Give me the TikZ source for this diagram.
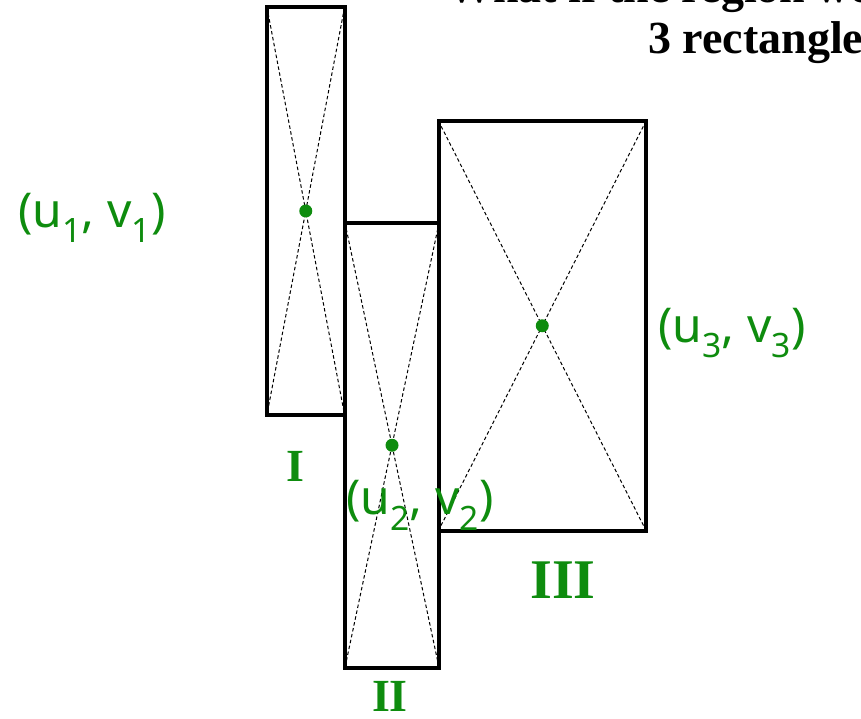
\documentclass[tikz,border=0pt]{standalone}
\usepackage{fontspec}
\setmainfont{Liberation Serif}
\newfontfamily\handfont{Noto Sans}
\usetikzlibrary{positioning}
\definecolor{inkgreen}{HTML}{0E8C0E}

\begin{document}
\begin{tikzpicture}[
 x=1pt,y=-1pt,
 region/.style={draw,line width=4pt,inner sep=0pt,outer sep=0pt},
 diag/.style={line width=1pt,dash pattern=on 3.5pt off 2.5pt},
 centre/.style={fill=inkgreen},
 hand/.style={text=inkgreen,font=\handfont\bfseries\fontsize{48}{52}\selectfont,inner sep=0pt},
 numeral/.style={text=inkgreen,font=\bfseries\fontsize{46}{50}\selectfont,inner sep=0pt},
 title/.style={font=\bfseries\fontsize{46}{50}\selectfont,inner sep=0pt,anchor=base west}
]
\useasboundingbox (0,0) rectangle (861,719);
\node[title] (head1) at (447,3) {What if the region were};
\node[title] (head2) at (648,54) {3 rectangles?};
\node[region,minimum width=77.5pt,minimum height=407pt] (rI) at (305.75,211) {};
\node[region,minimum width=94pt,minimum height=444.5pt] (rII) at (392,445.25) {};
\node[region,minimum width=207.5pt,minimum height=409.5pt] (rIII) at (542.25,325.75) {};
\foreach \r in {rI,rII,rIII} {
 \draw[diag] (\r.north west) -- (\r.south east);
 \draw[diag] (\r.north east) -- (\r.south west);
 \fill[centre] (\r.center) circle (6.5pt);
}
\node[hand] (uvI) at (92,218) {(u\textsubscript{1}, v\textsubscript{1})};
\node[hand] (uvII) at (420,505) {(u\textsubscript{2}, v\textsubscript{2})};
\node[hand,anchor=west] (uvIII) at (658,333) {(u\textsubscript{3}, v\textsubscript{3})};
\node[numeral] (nI) at (295,466) {I};
\node[numeral] (nII) at (390,696) {II};
\node[numeral,font=\bfseries\fontsize{56}{60}\selectfont] (nIII) at (563,580) {III};
\end{tikzpicture}
\end{document}
